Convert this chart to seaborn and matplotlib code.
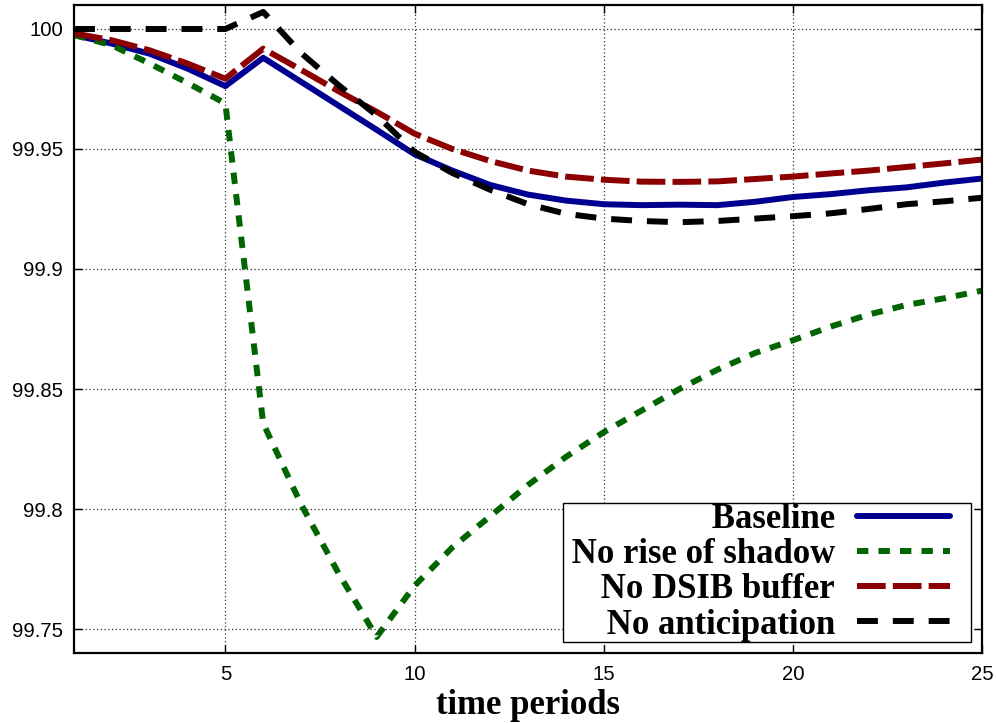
import numpy as np
import pandas as pd
import matplotlib
matplotlib.use("Agg")
import matplotlib.pyplot as plt
from matplotlib.legend_handler import HandlerLine2D
import seaborn as sns

periods = list(range(1, 26))

baseline = [99.9975, 99.9939, 99.9897, 99.9835, 99.9762, 99.9880, 99.9780, 99.9680,
            99.9580, 99.9478, 99.9410, 99.9350, 99.9310, 99.9285, 99.9270, 99.9266,
            99.9268, 99.9266, 99.9280, 99.9300, 99.9312, 99.9328, 99.9340, 99.9360, 99.9377]

no_shadow = [99.9975, 99.9932, 99.9856, 99.9775, 99.9690, 99.8357, 99.8020, 99.7730,
             99.7467, 99.7680, 99.7840, 99.7970, 99.8100, 99.8217, 99.8320, 99.8410,
             99.8500, 99.8580, 99.8650, 99.8703, 99.8760, 99.8810, 99.8850, 99.8878, 99.8910]

no_dsib = [99.9982, 99.9953, 99.9911, 99.9856, 99.9793, 99.9918, 99.9830, 99.9740,
           99.9655, 99.9564, 99.9500, 99.9450, 99.9410, 99.9385, 99.9372, 99.9364,
           99.9363, 99.9365, 99.9375, 99.9385, 99.9398, 99.9410, 99.9425, 99.9440, 99.9456]

no_anticip = [100.0, 100.0, 100.0, 100.0, 100.0, 100.0071, 99.9900, 99.9765,
              99.9640, 99.9488, 99.9400, 99.9330, 99.9270, 99.9230, 99.9210, 99.9200,
              99.9195, 99.9200, 99.9210, 99.9220, 99.9232, 99.9250, 99.9270, 99.9282, 99.9297]

labels = ["Baseline", "No rise of shadow", "No DSIB buffer", "No anticipation"]
colors = ["#000090", "#006400", "#8b0000", "#000000"]

sns.set_style("ticks")
plt.rcParams["font.family"] = ["Liberation Sans", "DejaVu Sans"]
plt.rcParams["text.color"] = "black"
plt.rcParams["xtick.color"] = "black"
plt.rcParams["ytick.color"] = "black"

fig = plt.figure(figsize=(9.96, 7.23), dpi=100)
ax = fig.add_axes([0.0743, 0.0968, 0.9117, 0.8963])

lw = 4.3
styles = ["-", (0, (1.9, 1.7)), (0, (4.8, 1.2)), (0, (3.5, 2.5))]
series = [baseline, no_shadow, no_dsib, no_anticip]
handles = []
for vals, lab, col, ls in zip(series, labels, colors, styles):
    df = pd.DataFrame({"t": periods, "v": vals})
    sns.lineplot(data=df, x="t", y="v", ax=ax, color=col, linewidth=lw,
                 linestyle=ls, label=lab, legend=False)
    handles.append(ax.get_lines()[-1])

ax.set_xlim(1, 25)
ax.set_ylim(99.74, 100.01)
ax.set_xticks([5, 10, 15, 20, 25])
ax.set_yticks([99.75, 99.8, 99.85, 99.9, 99.95, 100])
ax.set_yticklabels(["99.75", "99.8", "99.85", "99.9", "99.95", "100"])
ax.grid(True, linestyle=(0, (1, 2)), color="#333333", linewidth=0.9)
ax.tick_params(direction="in", length=6, width=1.0, labelsize=14.6,
               top=True, right=True, colors="black", labelcolor="black")
ax.tick_params(axis="y", pad=8)
ax.tick_params(axis="x", pad=8.4)
for s in ax.spines.values():
    s.set_linewidth(1.6)
    s.set_color("black")

ax.set_xlabel("time periods", fontsize=25, fontweight="bold",
              family="Liberation Serif", labelpad=4, color="black")
ax.set_ylabel("")


class ShortLineHandler(HandlerLine2D):
    """Draw the legend line shorter than the handle box, leaving a right gap."""
    def get_xdata(self, legend, xdescent, ydescent, width, height, fontsize):
        gap = 0.58 * fontsize
        xdata = np.array([-xdescent, -xdescent + width - gap])
        return xdata, xdata


leg = ax.legend(handles=handles, labels=[" " + l for l in labels], loc="lower right",
                markerfirst=False, handlelength=3.26, handletextpad=0.65,
                labelspacing=0.06, borderaxespad=0.33, borderpad=0.0,
                fancybox=False, framealpha=1, edgecolor="black",
                handler_map={h: ShortLineHandler() for h in handles},
                prop=dict(family="Liberation Serif", weight="bold", size=25))
leg.get_frame().set_linewidth(1.0)
for t in leg.get_texts():
    t.set_color("black")

fig.savefig("out.png", dpi=100)
